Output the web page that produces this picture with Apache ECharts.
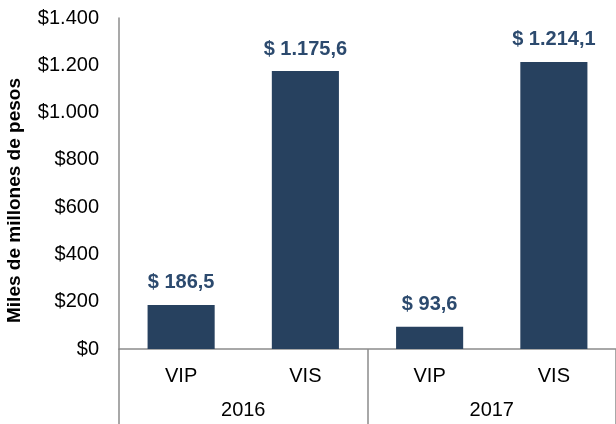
<!DOCTYPE html>
<html>
<head>
<meta charset="utf-8">
<script src="https://cdn.jsdelivr.net/npm/echarts@6/dist/echarts.min.js"></script>
<style>
  html, body { margin: 0; padding: 0; background: #fff; }
  #chart { width: 616px; height: 424px; }
</style>
</head>
<body>
<div id="chart"></div>
<script>
// datos
var tipos = ["VIP", "VIS", "VIP", "VIS"];
var anios = ["2016", "2017"];
var valores = [186.5, 1175.6, 93.6, 1214.1];
var ticksY = [0, 200, 400, 600, 800, 1000, 1200, 1400];

var FONT = "Liberation Sans, Arial, sans-serif";
var colorBarra = "#27415f";
var colorEtiqueta = "#2c4a6e";
var colorEje = "#8c8c8c";

function miles(n) {
  return String(n).replace(/\B(?=(\d{3})+(?!\d))/g, ".");
}
function formatoValor(v) {
  var partes = v.toFixed(1).split(".");
  return "$ " + miles(partes[0]) + "," + partes[1];
}

var chart = echarts.init(document.getElementById("chart"));
var option = {
  animation: false,
  grid: { left: 119, right: 0, top: 18, bottom: 75, outerBoundsMode: "none", containLabel: false },
  xAxis: [
    {
      type: "category",
      data: tipos,
      axisLine: { lineStyle: { color: colorEje, width: 1.5 } },
      axisTick: { show: false },
      axisLabel: { color: "#000", fontFamily: FONT, fontSize: 20, margin: 17 }
    },
    {
      type: "category",
      data: anios,
      position: "bottom",
      axisLine: { show: false },
      axisTick: { show: true, length: 75, lineStyle: { color: colorEje, width: 1.5 } },
      axisLabel: { color: "#000", fontFamily: FONT, fontSize: 20, margin: 51 }
    }
  ],
  yAxis: {
    type: "value",
    min: ticksY[0],
    max: ticksY[ticksY.length - 1],
    interval: 200,
    name: "Miles de millones de pesos",
    nameLocation: "middle",
    nameGap: 95,
    nameTextStyle: {
      color: "#000", fontFamily: FONT, fontSize: 19, fontWeight: "bold",
      padding: [0, 34, 0, 0]
    },
    axisLine: { show: true, lineStyle: { color: colorEje, width: 1.5 } },
    axisTick: { show: false },
    splitLine: { show: false },
    axisLabel: {
      color: "#000",
      fontFamily: FONT,
      fontSize: 20,
      margin: 20,
      formatter: function (v) { return "$" + miles(v); }
    }
  },
  series: [
    {
      type: "bar",
      xAxisIndex: 0,
      data: valores,
      barWidth: "54%",
      itemStyle: { color: colorBarra },
      label: {
        show: true,
        position: "top",
        distance: 12,
        color: colorEtiqueta,
        fontFamily: FONT,
        fontSize: 20,
        fontWeight: "bold",
        formatter: function (p) { return formatoValor(p.value); }
      }
    },
    {
      type: "bar",
      xAxisIndex: 1,
      data: [],
      silent: true
    }
  ]
};
chart.setOption(option);
</script>
</body>
</html>
